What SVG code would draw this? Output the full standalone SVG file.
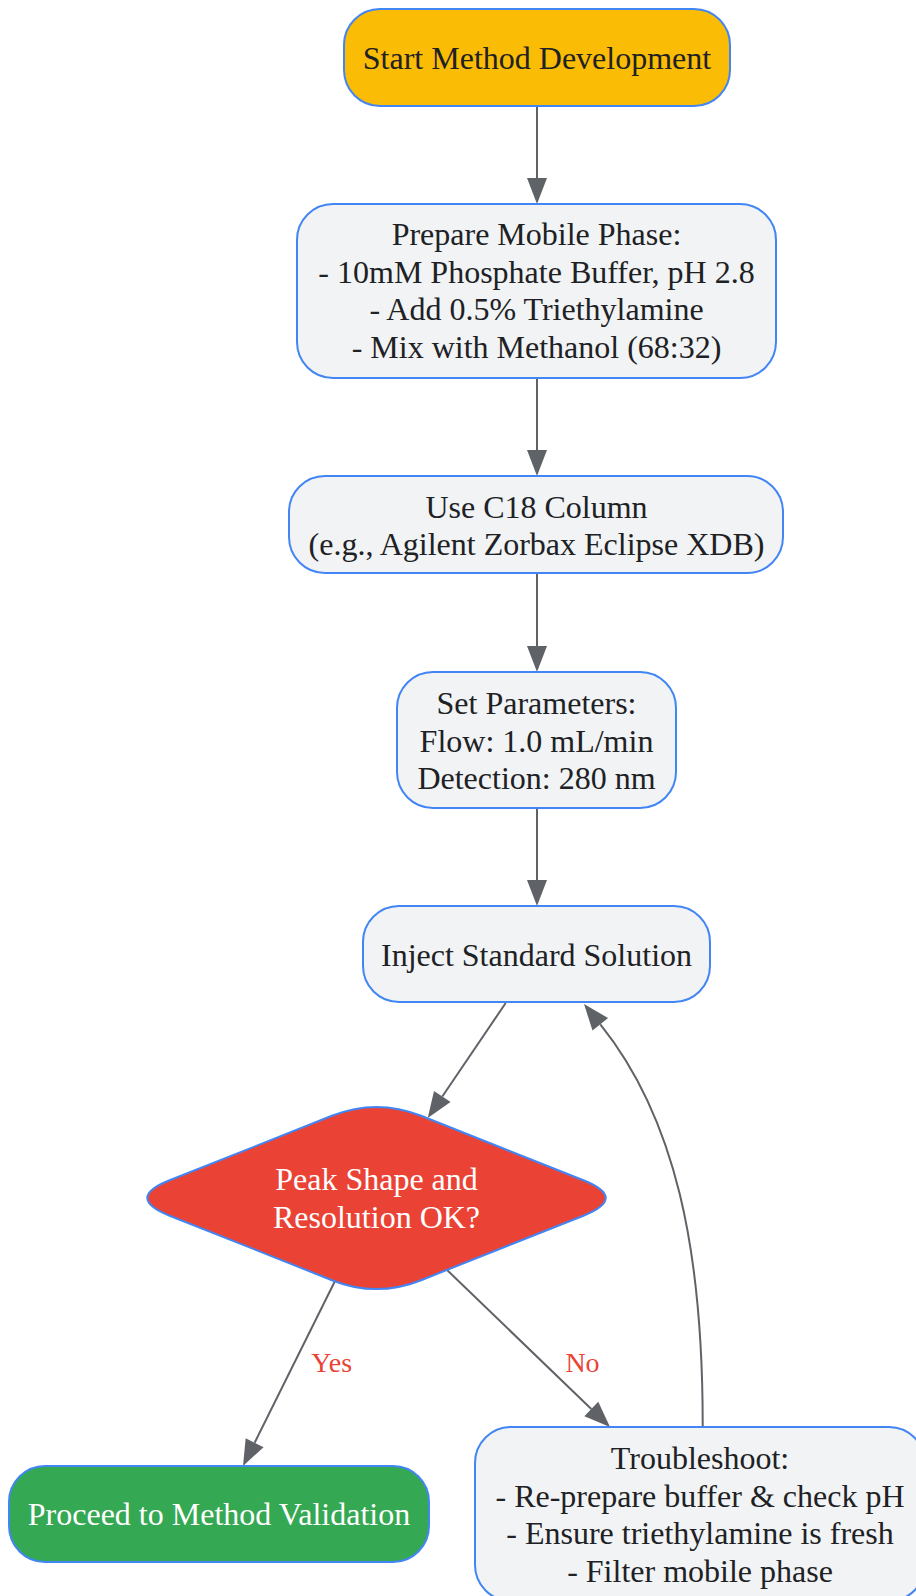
<svg xmlns="http://www.w3.org/2000/svg" width="916" height="1596" viewBox="0 0 916 1596">
<style>
.node{stroke:#4285F4;stroke-width:2}
.proc{fill:#F1F3F4}
.t{font-family:"Liberation Serif","Times New Roman",serif;font-size:32px;fill:#202124;text-anchor:middle}
.w{fill:#FFFFFF}
.edge{fill:none;stroke:#5F6368;stroke-width:2}
.lbl{font-family:"Liberation Serif","Times New Roman",serif;font-size:28px;fill:#EA4335;text-anchor:middle}
</style>
<defs>
<marker id="arr" markerUnits="userSpaceOnUse" markerWidth="28" markerHeight="22" refX="0" refY="10" orient="auto" overflow="visible">
<path d="M0,0 L26,10 L0,20 Z" fill="#5F6368"/>
</marker>
</defs>
<rect x="0" y="0" width="916" height="1596" fill="#FFFFFF"/>
<g id="connectors">
<path class="edge" d="M537,106 L537,178" marker-end="url(#arr)"/>
<path class="edge" d="M537,378 L537,450" marker-end="url(#arr)"/>
<path class="edge" d="M537,573 L537,646" marker-end="url(#arr)"/>
<path class="edge" d="M537,808 L537,880" marker-end="url(#arr)"/>
<path class="edge" d="M505.7,1003 L442.3,1096.5" marker-end="url(#arr)"/>
<path class="edge" d="M335,1281 L254.6,1442.7" marker-end="url(#arr)"/>
<path class="edge" d="M446,1269 L591.3,1409" marker-end="url(#arr)"/>
<path class="edge" d="M702.7,1427 C703,1250 675.5,1117.8 600.3,1024.3" marker-end="url(#arr)"/>
<text class="lbl" x="331.7" y="1372">Yes</text>
<text class="lbl" x="582.5" y="1372">No</text>
</g>
<g id="start">
<rect class="node" x="344" y="9" width="386" height="97" rx="36" ry="36" fill="#FBBC05"/>
<text class="t" x="537" y="69">Start Method Development</text>
</g>
<g id="prepare">
<rect class="node proc" x="297" y="204" width="479" height="174" rx="36" ry="36"/>
<text class="t" x="536.5" y="245">Prepare Mobile Phase:</text>
<text class="t" x="536.5" y="282.5">- 10mM Phosphate Buffer, pH 2.8</text>
<text class="t" x="536.5" y="320">- Add 0.5% Triethylamine</text>
<text class="t" x="536.5" y="357.5">- Mix with Methanol (68:32)</text>
</g>
<g id="column">
<rect class="node proc" x="289" y="476" width="494" height="97" rx="36" ry="36"/>
<text class="t" x="536.5" y="517.5">Use C18 Column</text>
<text class="t" x="536.5" y="555">(e.g., Agilent Zorbax Eclipse XDB)</text>
</g>
<g id="params">
<rect class="node proc" x="397" y="672" width="279" height="136" rx="36" ry="36"/>
<text class="t" x="536.5" y="714">Set Parameters:</text>
<text class="t" x="536.5" y="751.5">Flow: 1.0 mL/min</text>
<text class="t" x="536.5" y="789">Detection: 280 nm</text>
</g>
<g id="inject">
<rect class="node proc" x="363" y="906" width="347" height="96" rx="36" ry="36"/>
<text class="t" x="536.5" y="966">Inject Standard Solution</text>
</g>
<g id="decision">
<path class="node" fill="#EA4335" d="M169.6,1180.3 L331.9,1115.8 Q376.5,1098 421.1,1115.8 L583.4,1180.3 Q628,1198 583.4,1215.7 L421.1,1280.2 Q376.5,1298 331.9,1280.2 L169.6,1215.7 Q125,1198 169.6,1180.3 Z"/>
<text class="t w" x="376.5" y="1190">Peak Shape and</text>
<text class="t w" x="376.5" y="1228">Resolution OK?</text>
</g>
<g id="proceed">
<rect class="node" x="9" y="1466" width="420" height="96" rx="36" ry="36" fill="#34A853"/>
<text class="t w" x="219" y="1525">Proceed to Method Validation</text>
</g>
<g id="troubleshoot">
<rect class="node proc" x="475" y="1427" width="450" height="174" rx="36" ry="36"/>
<text class="t" x="700" y="1469">Troubleshoot:</text>
<text class="t" x="700" y="1506.5">- Re-prepare buffer &amp; check pH</text>
<text class="t" x="700" y="1544">- Ensure triethylamine is fresh</text>
<text class="t" x="700" y="1581.5">- Filter mobile phase</text>
</g>
</svg>
